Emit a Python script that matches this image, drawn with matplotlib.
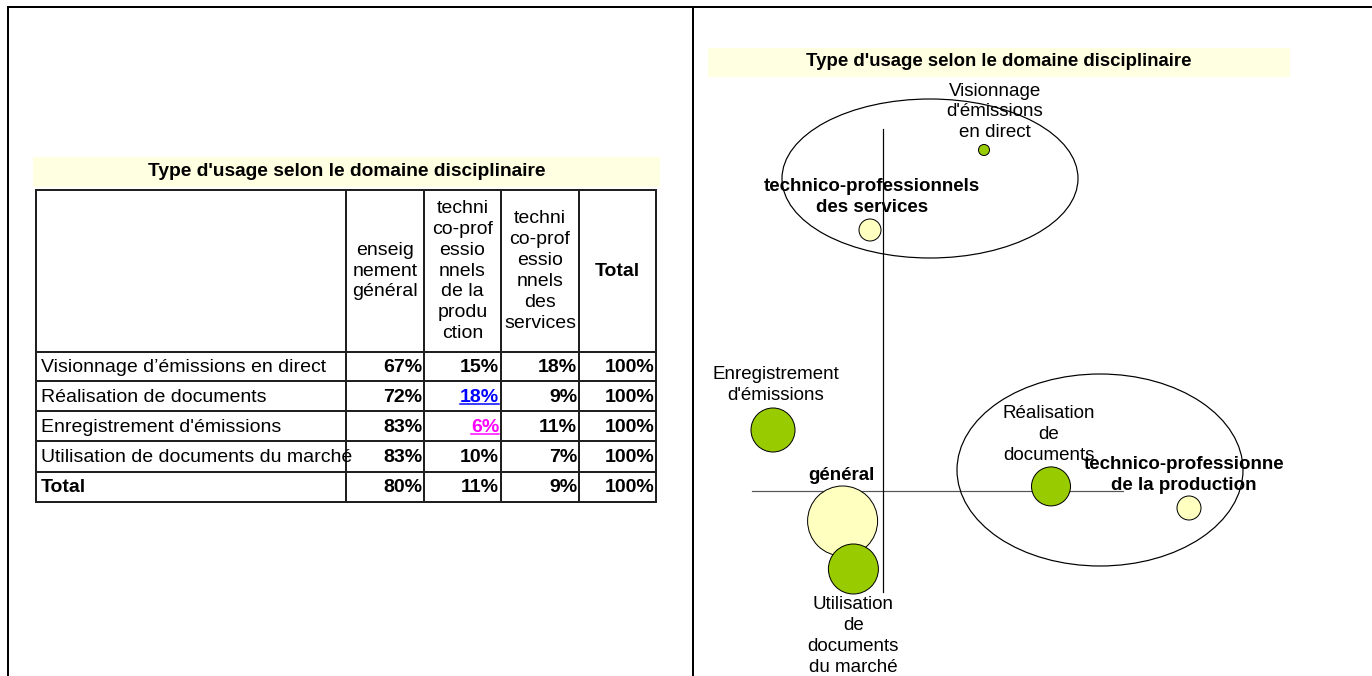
import matplotlib.pyplot as plt
from matplotlib.patches import Rectangle, Ellipse

plt.rcParams['font.family'] = ['Liberation Sans', 'DejaVu Sans']

TITLE = "Type d'usage selon le domaine disciplinaire"

# table data
row_labels = ["Visionnage d’émissions en direct", "Réalisation de documents",
              "Enregistrement d'émissions", "Utilisation de documents du marché", "Total"]
col_labels = ["enseig\nnement\ngénéral",
              "techni\nco-prof\nessio\nnnels\nde la\nprodu\nction",
              "techni\nco-prof\nessio\nnnels\ndes\nservices",
              "Total"]
pct_general = [67, 72, 83, 83, 80]
pct_production = [15, 18, 6, 10, 11]
pct_services = [18, 9, 11, 7, 9]
pct_total = [100, 100, 100, 100, 100]
# cells shown as underlined links: (row, col) -> colour
link_cells = {(1, 1): "#0000ff", (2, 1): "#ff00ff"}

# correspondence map: types of usage (rows)
usage_labels = ["Visionnage\nd'émissions\nen direct", "Réalisation\nde\ndocuments",
                "Enregistrement\nd'émissions", "Utilisation\nde\ndocuments\ndu marché"]
usage_dim1 = [0.505, 0.84, -0.55, -0.148]
usage_dim2 = [1.705, 0.023, 0.305, -0.39]
usage_size = [63, 788, 1004, 1296]

# correspondence map: disciplinary domains (columns)
domain_labels = ["général", "technico-professionne\nde la production",
                 "technico-professionnels\ndes services"]
domain_dim1 = [-0.202, 1.53, -0.065]
domain_dim2 = [-0.15, -0.085, 1.305]
domain_size = [2540, 299, 251]

# label offsets in pixels (layout only)
usage_offsets = [(11, 38), (-2, 52), (3, 45), (0, -67)]
domain_offsets = [(-1, 45), (-5, 33), (2, 33)]

GREEN = "#99cc00"
YELLOW = "#ffffc0"
BAND = "#ffffe1"
PX = 0.72  # one pixel in points at 100 dpi
LS = 1.3

fig = plt.figure(figsize=(13.72, 6.76), dpi=100)

# page layer in pixel coordinates
ax0 = fig.add_axes([0, 0, 1, 1])
ax0.set_xlim(0, 1372)
ax0.set_ylim(676, 0)
ax0.axis("off")

# page frame
ax0.plot([8, 1372], [7, 7], color="black", lw=2 * PX)
ax0.plot([8, 8], [7, 676], color="black", lw=2 * PX)
ax0.plot([693, 693], [7, 676], color="black", lw=2 * PX)

# ---- left: table
ax0.add_patch(Rectangle((33, 157), 627, 30, color=BAND, lw=0))
ax0.text(347, 172, TITLE, ha="center", va="center", fontsize=13.8, fontweight="bold")

col_edges = [36, 346, 424, 501, 579, 656]
row_edges = [190, 352, 381, 411, 441, 472, 502]
for y in row_edges:
    ax0.plot([col_edges[0], col_edges[-1]], [y, y], color="#202020", lw=2 * PX)
for x in col_edges:
    ax0.plot([x, x], [row_edges[0], row_edges[-1]], color="#202020", lw=2 * PX)

for j, lab in enumerate(col_labels):
    cx = (col_edges[j + 1] + col_edges[j + 2]) / 2
    cy = (row_edges[0] + row_edges[1]) / 2
    ax0.text(cx, cy, lab, ha="center", va="center", fontsize=14, linespacing=LS,
             fontweight="bold" if lab == "Total" else "normal")

columns = [pct_general, pct_production, pct_services, pct_total]
links = []
for i, lab in enumerate(row_labels):
    cy = (row_edges[i + 1] + row_edges[i + 2]) / 2 + 1
    ax0.text(41, cy, lab, ha="left", va="center", fontsize=14,
             fontweight="bold" if lab == "Total" else "normal")
    for j, col in enumerate(columns):
        color = link_cells.get((i, j), "black")
        t = ax0.text(col_edges[j + 2] - 2, cy, f"{col[i]}%", ha="right", va="center",
                     fontsize=14, fontweight="bold", color=color)
        if (i, j) in link_cells:
            links.append((t, color))

# ---- right: correspondence map
ax0.add_patch(Rectangle((708, 48), 582, 29, color=BAND, lw=0))
ax0.text(999, 62, TITLE, ha="center", va="center", fontsize=13.4, fontweight="bold")

ax = fig.add_axes([700 / 1372, 0, 672 / 1372, 636 / 676])
ax.set_xlim(-0.915, 2.445)
ax.set_ylim(-0.925, 2.255)
ax.patch.set_alpha(0)
ax.axis("off")

ax.plot([-0.655, 1.2], [0, 0], color="#555555", lw=1.2 * PX, zorder=1)
ax.plot([0, 0], [-0.505, 1.81], color="black", lw=1.2 * PX, zorder=4)

ax.scatter(domain_dim1, domain_dim2, s=domain_size, color=YELLOW,
           edgecolors="black", linewidths=PX, zorder=2)
ax.scatter(usage_dim1, usage_dim2, s=usage_size, color=GREEN,
           edgecolors="black", linewidths=PX, zorder=3)

for lab, x, y, off in zip(domain_labels, domain_dim1, domain_dim2, domain_offsets):
    ax.annotate(lab, (x, y), xytext=off, textcoords="offset pixels", ha="center",
                va="center", fontsize=13.5, fontweight="bold", linespacing=LS, zorder=5)
for lab, x, y, off in zip(usage_labels, usage_dim1, usage_dim2, usage_offsets):
    ax.annotate(lab, (x, y), xytext=off, textcoords="offset pixels", ha="center",
                va="center", fontsize=13.5, linespacing=LS, zorder=5)

# groupings drawn around the points
ax.add_patch(Ellipse((0.235, 1.5625), 1.48, 0.795, fill=False, ec="black", lw=1.2 * PX, zorder=6))
ax.add_patch(Ellipse((1.085, 0.105), 1.43, 0.96, fill=False, ec="black", lw=1.2 * PX, zorder=6))

# underline the link cells
fig.canvas.draw()
renderer = fig.canvas.get_renderer()
inv = ax0.transData.inverted()
for t, color in links:
    bb = t.get_window_extent(renderer)
    (x0, y0), (x1, _) = inv.transform([[bb.x0, bb.y0 + 2], [bb.x1, bb.y0 + 2]])
    ax0.plot([x0, x1], [y0, y0], color=color, lw=1.5 * PX)

fig.savefig("out.png", dpi=100)
